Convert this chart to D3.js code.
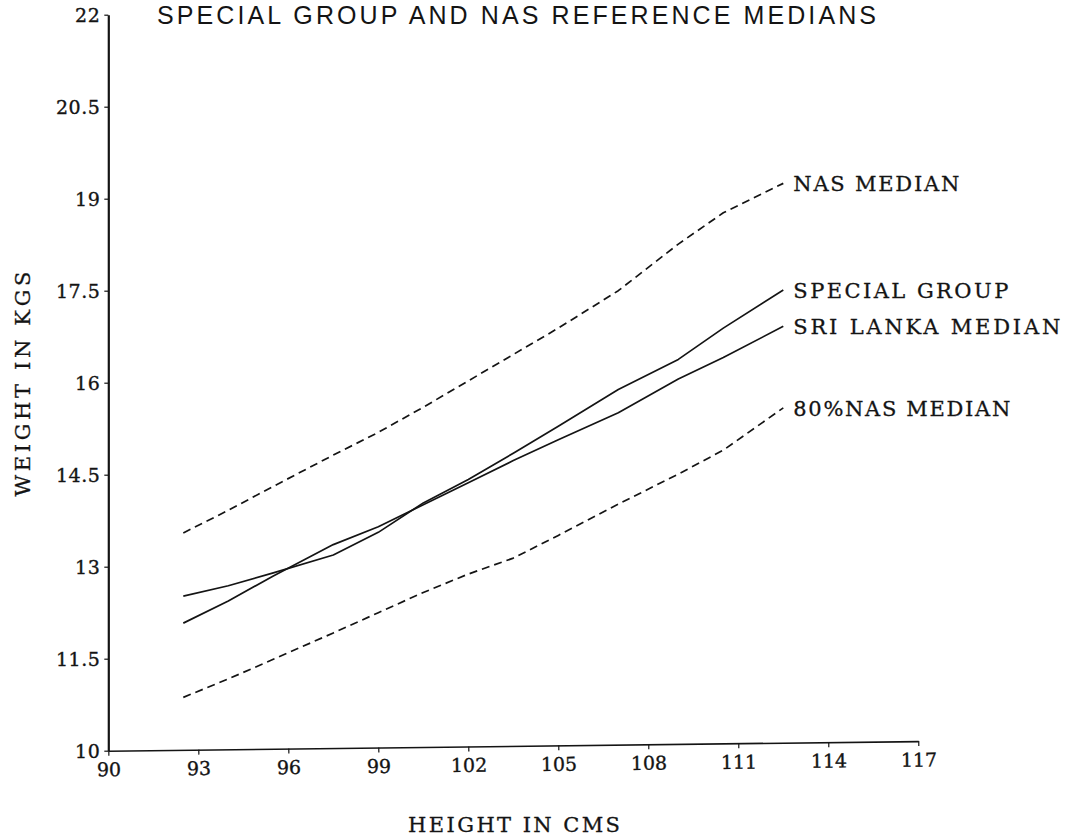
<!DOCTYPE html>
<html>
<head>
<meta charset="utf-8">
<script src="https://cdn.jsdelivr.net/npm/d3@7"></script>
<style>
  html, body { margin: 0; padding: 0; background: #ffffff; }
  svg { display: block; }
</style>
</head>
<body>
<svg id="chart" width="1073" height="838"></svg>
<script>
// ---- data ----
const heights        = [92.5, 94, 95.5, 97.5, 99, 100.5, 102, 103.5, 105, 107, 109, 110.5, 112.5];
const nasMedian      = [13.55, 13.92, 14.31, 14.82, 15.19, 15.60, 16.03, 16.46, 16.89, 17.50, 18.26, 18.77, 19.25];
const specialGroup   = [12.52, 12.69, 12.90, 13.19, 13.56, 14.04, 14.42, 14.85, 15.29, 15.89, 16.38, 16.89, 17.51];
const sriLankaMedian = [12.08, 12.44, 12.85, 13.36, 13.65, 14.01, 14.37, 14.73, 15.07, 15.51, 16.06, 16.41, 16.92];
const nas80Median    = [10.87, 11.17, 11.49, 11.92, 12.25, 12.58, 12.88, 13.14, 13.51, 14.02, 14.51, 14.90, 15.59];

const seriesNames  = ["NAS MEDIAN", "SPECIAL GROUP", "SRI LANKA MEDIAN", "80%NAS MEDIAN"];
const seriesValues = [nasMedian, specialGroup, sriLankaMedian, nas80Median];
const seriesDashed = [true, false, false, true];

const xTicks = [90, 93, 96, 99, 102, 105, 108, 111, 114, 117];
const yTicks = [10, 11.5, 13, 14.5, 16, 17.5, 19, 20.5, 22];

const titleText  = "SPECIAL GROUP AND NAS REFERENCE MEDIANS";
const xAxisTitle = "HEIGHT IN CMS";
const yAxisTitle = "WEIGHT IN KGS";

// ---- layout ----
const svg = d3.select("#chart");
const ink = "#141414";
const serif = "'DejaVu Serif', 'Liberation Serif', serif";

const x = d3.scaleLinear().domain([90, 117]).range([108.3, 918.3]);
const y = d3.scaleLinear().domain([10, 22]).range([750.7, 14.7]);

// title
svg.append("text")
  .attr("x", 157).attr("y", 24)
  .attr("font-family", "'Liberation Sans', Arial, sans-serif")
  .attr("font-size", 25)
  .attr("fill", ink)
  .attr("textLength", 719)
  .attr("lengthAdjust", "spacing")
  .text(titleText);

// y axis
const yAxis = svg.append("g")
  .attr("transform", `translate(${x(90)},0)`)
  .call(d3.axisLeft(y).tickValues(yTicks).tickSize(4).tickSizeOuter(0)
        .tickFormat(d => String(d)));
yAxis.select(".domain").attr("stroke", ink).attr("stroke-width", 2.2);
yAxis.selectAll(".tick line").attr("stroke", ink).attr("stroke-width", 1.2);
yAxis.selectAll(".tick text")
  .attr("font-family", serif).attr("font-size", 19).attr("fill", ink)
  .attr("stroke", ink).attr("stroke-width", 0.35)
  .attr("letter-spacing", 0.5)
  .attr("x", -8).attr("dy", "0.36em");

// x axis (slightly tilted like the scan)
const xAxis = svg.append("g")
  .attr("transform", `translate(0,${y(10)}) rotate(-0.68, ${x(90)}, 0)`)
  .call(d3.axisBottom(x).tickValues(xTicks).tickSize(5).tickSizeOuter(0)
        .tickFormat(d => String(d)));
xAxis.select(".domain").attr("stroke", ink).attr("stroke-width", 1.6);
xAxis.selectAll(".tick line").attr("stroke", ink).attr("stroke-width", 1.2);
xAxis.selectAll(".tick text")
  .attr("font-family", serif).attr("font-size", 19).attr("fill", ink)
  .attr("stroke", ink).attr("stroke-width", 0.35)
  .attr("y", 12).attr("dy", "0.71em");

// axis titles
svg.append("text")
  .attr("x", 514).attr("y", 832)
  .attr("text-anchor", "middle")
  .attr("font-family", serif).attr("font-size", 21).attr("fill", ink)
  .attr("stroke", ink).attr("stroke-width", 0.3)
  .attr("textLength", 212).attr("lengthAdjust", "spacing")
  .text(xAxisTitle);

svg.append("text")
  .attr("transform", "translate(30,384) rotate(-90)")
  .attr("text-anchor", "middle")
  .attr("font-family", serif).attr("font-size", 21).attr("fill", ink)
  .attr("stroke", ink).attr("stroke-width", 0.3)
  .attr("textLength", 225).attr("lengthAdjust", "spacing")
  .text(yAxisTitle);

// lines
const line = d3.line()
  .x(d => x(d[0]))
  .y(d => y(d[1]));

seriesValues.forEach((vals, i) => {
  const pts = heights.map((h, j) => [h, vals[j]]);
  svg.append("path")
    .datum(pts)
    .attr("d", line)
    .attr("fill", "none")
    .attr("stroke", ink)
    .attr("stroke-width", 1.7)
    .attr("stroke-linejoin", "round")
    .attr("stroke-dasharray", seriesDashed[i] ? "8,5" : null);
});

// end labels
const labelWidths = [166, 215, 267, 217];
seriesValues.forEach((vals, i) => {
  const last = vals.length - 1;
  svg.append("text")
    .attr("x", x(heights[last]) + 10)
    .attr("y", y(vals[last]) + 8)
    .attr("font-family", serif).attr("font-size", 21).attr("fill", ink)
    .attr("stroke", ink).attr("stroke-width", 0.3)
    .attr("textLength", labelWidths[i]).attr("lengthAdjust", "spacing")
    .text(seriesNames[i]);
});
</script>
</body>
</html>
